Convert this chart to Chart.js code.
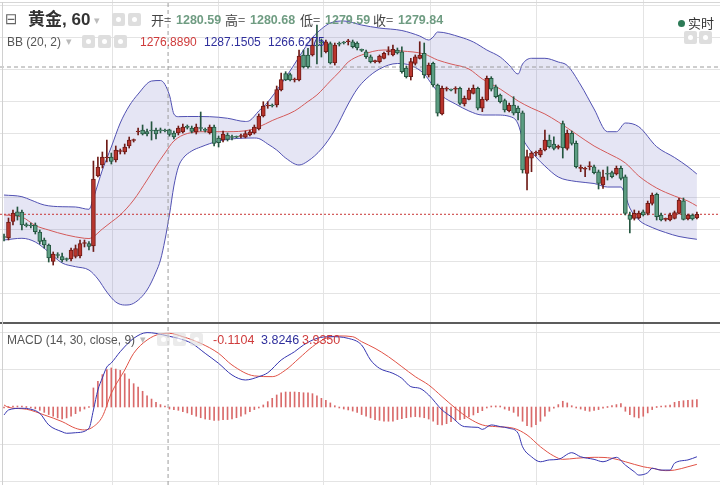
<!DOCTYPE html>
<html>
<head>
<meta charset="utf-8">
<script src="https://cdn.jsdelivr.net/npm/chart.js@4.4.0/dist/chart.umd.min.js"></script>
<style>
  body { margin: 0; background: #fff; }
  #wrap { position: relative; width: 720px; height: 485px; overflow: hidden; background: #fff;
          font-family: "Liberation Sans", Arial, sans-serif; }
  #mainBox { position: absolute; left: 0; top: 0; width: 720px; height: 322px; }
  #macdBox { position: absolute; left: 0; top: 324px; width: 720px; height: 161px; }
  .sep { position: absolute; left: 0; top: 322px; width: 720px; height: 2px; background: #5c5c5c; }
  .topline { position: absolute; left: 0; top: 2px; width: 720px; height: 1px; background: #d6d6d6; }
  .leftline { position: absolute; left: 2px; top: 2px; width: 1px; height: 483px; background: #d0d0d0; }
  .lbl { position: absolute; white-space: nowrap; font-size: 13px; line-height: 16px; color: #444; z-index: 5; }
  .ico { position: absolute; width: 13px; height: 13px; background: #dedede; border-radius: 2px; z-index: 5; }
  .ico i { position: absolute; left: 4px; top: 4px; width: 5px; height: 5px; border-radius: 50%; background: #fff; }
  .arrow { color: #bbb; font-family: "DejaVu Sans"; font-size: 11px; }
  .val { font-weight: bold; font-size: 12.5px; color: #6f9c82; }
  .red { color: #cf3b3b; }
  .blue { color: #2f2f9c; }
</style>
</head>
<body>
<div id="wrap">
  <div id="mainBox"><canvas id="mainChart"></canvas></div>
  <div class="sep"></div>
  <div id="macdBox"><canvas id="macdChart"></canvas></div>
  <div class="topline"></div>
  <div class="leftline"></div>

  <!-- header, row 1 -->
  <div class="lbl" style="left:5px;top:11px;font-size:15px;color:#666;font-family:'DejaVu Sans'">⊟</div>
  <div class="lbl" style="left:28px;top:10px;font-size:17px;line-height:20px;font-weight:bold;color:#333;font-family:'Liberation Sans','Noto Sans CJK SC'">黄金, 60</div>
  <div class="lbl arrow" style="left:94px;top:13px">▾</div>
  <div class="ico" style="left:112px;top:13px"><i></i></div>
  <div class="ico" style="left:128px;top:13px"><i></i></div>
  <div class="lbl" style="left:151px;top:12px;font-family:'Noto Sans CJK SC'">开=</div>
  <div class="lbl val" style="left:176px;top:12px">1280.59</div>
  <div class="lbl" style="left:225px;top:12px;font-family:'Noto Sans CJK SC'">高=</div>
  <div class="lbl val" style="left:250px;top:12px">1280.68</div>
  <div class="lbl" style="left:300px;top:12px;font-family:'Noto Sans CJK SC'">低=</div>
  <div class="lbl val" style="left:325px;top:12px">1279.59</div>
  <div class="lbl" style="left:373px;top:12px;font-family:'Noto Sans CJK SC'">收=</div>
  <div class="lbl val" style="left:398px;top:12px">1279.84</div>

  <!-- header, row 2 -->
  <div class="lbl" style="left:7px;top:34px;font-size:12px;color:#555">BB (20, 2)</div>
  <div class="lbl arrow" style="left:66px;top:34px">▾</div>
  <div class="ico" style="left:82px;top:35px"><i></i></div>
  <div class="ico" style="left:98px;top:35px"><i></i></div>
  <div class="ico" style="left:114px;top:35px"><i></i></div>
  <div class="lbl red" style="left:140px;top:34px;font-size:12px">1276.8890</div>
  <div class="lbl blue" style="left:204px;top:34px;font-size:12px">1287.1505</div>
  <div class="lbl blue" style="left:268px;top:34px;font-size:12px">1266.6275</div>

  <!-- top right -->
  <div style="position:absolute;left:678px;top:20px;width:7px;height:7px;border-radius:50%;background:#2d7b57;z-index:5"></div>
  <div class="lbl" style="left:688px;top:15px;font-family:'Noto Sans CJK SC';color:#333">实时</div>
  <div class="ico" style="left:684px;top:31px"><i></i></div>
  <div class="ico" style="left:699px;top:31px"><i></i></div>

  <!-- MACD legend -->
  <div class="lbl" style="left:7px;top:332px;font-size:12px;color:#555">MACD (14, 30, close, 9)</div>
  <div class="lbl arrow" style="left:140px;top:332px">▾</div>
  <div class="ico" style="left:157px;top:333px;opacity:0.6"><i></i></div>
  <div class="ico" style="left:173px;top:333px;opacity:0.6"><i></i></div>
  <div class="ico" style="left:190px;top:333px;opacity:0.6"><i></i></div>
  <div class="lbl red" style="left:213px;top:332px;font-size:12.5px">-0.1104</div>
  <div class="lbl blue" style="left:261px;top:332px;font-size:12.5px">3.8246</div>
  <div class="lbl red" style="left:302px;top:332px;font-size:12.5px">3.9350</div>
</div>

<script>
// 黄金 60分钟: K线 + BB(20,2) + MACD(14,30,9)

// candles (one per hour bar)
const opens = [
  1263.83,1263.67,1266.25,1267.78,1267.73,1265.70,1265.62,1265.70,1264.61,1263.36,
  1262.58,1260.00,1260.98,1260.78,1260.39,1260.39,1260.78,1260.86,1262.81,1262.81,
  1262.42,1273.36,1275.08,1276.17,1276.33,1275.86,1277.19,1277.11,1278.05,1278.91,
  1280.23,1280.55,1280.31,1280.55,1280.55,1280.44,1280.44,1280.59,1280.08,1280.08,
  1280.23,1281.02,1280.86,1280.23,1280.86,1280.55,1280.13,1281.02,1279.30,1278.98,
  1279.77,1279.41,1279.45,1279.53,1279.41,1279.77,1280.08,1280.70,1282.73,1284.30,
  1284.38,1284.45,1286.80,1289.38,1289.22,1288.36,1288.36,1292.27,1292.27,1292.27,
  1293.83,1294.30,1292.78,1294.06,1291.02,1293.98,1294.19,1294.34,1294.34,1294.14,
  1293.05,1292.78,1292.00,1291.22,1291.22,1291.75,1292.78,1292.27,1293.05,1292.78,
  1290.23,1288.88,1290.97,1291.75,1292.53,1289.14,1290.97,1287.58,1283.05,1286.91,
  1286.80,1286.91,1287.06,1284.61,1285.34,1286.28,1287.06,1283.94,1285.23,1288.63,
  1287.31,1286.02,1285.13,1283.56,1284.45,1283.98,1283.25,1273.78,1276.13,1276.91,
  1276.64,1277.42,1278.98,1278.36,1277.84,1281.56,1277.69,1280.03,1278.47,1274.56,
  1274.41,1274.81,1274.81,1274.03,1271.95,1273.67,1273.88,1273.67,1274.56,1273.25,
  1267.27,1266.75,1266.80,1267.78,1267.53,1269.09,1270.50,1267.27,1266.59,1266.48,
  1266.75,1267.53,1269.50,1266.64,1267.27,1266.80
];
const highs = [
  1264.30,1266.80,1268.05,1268.52,1268.05,1266.02,1266.02,1266.02,1264.92,1263.67,
  1262.74,1261.49,1261.38,1261.33,1260.55,1262.11,1262.58,1263.36,1263.36,1263.13,
  1275.70,1276.33,1277.11,1278.98,1276.95,1278.05,1277.58,1278.36,1279.45,1279.14,
  1280.86,1281.33,1280.70,1281.84,1280.86,1280.86,1280.70,1280.68,1280.39,1281.17,
  1281.48,1281.33,1281.17,1281.48,1283.36,1280.86,1281.33,1281.33,1279.61,1280.39,
  1280.08,1279.77,1279.61,1279.92,1280.39,1280.55,1281.33,1283.05,1284.97,1284.97,
  1284.61,1287.42,1289.45,1289.66,1289.45,1288.67,1293.05,1293.05,1293.31,1294.92,
  1296.95,1294.77,1294.61,1294.30,1294.14,1294.30,1294.38,1294.72,1294.61,1294.34,
  1293.20,1293.05,1292.27,1291.48,1292.27,1292.73,1293.56,1293.83,1293.36,1293.56,
  1290.55,1291.75,1292.27,1294.34,1294.14,1291.02,1291.17,1287.73,1287.42,1287.27,
  1286.95,1287.31,1287.27,1285.86,1287.11,1287.58,1287.27,1285.70,1288.98,1288.88,
  1287.58,1286.17,1285.39,1284.77,1285.75,1284.30,1283.52,1277.42,1277.16,1277.27,
  1277.69,1280.55,1279.77,1279.50,1278.20,1281.95,1280.55,1280.39,1278.83,1275.08,
  1274.77,1275.59,1275.08,1274.30,1274.30,1274.81,1274.14,1274.92,1274.92,1273.52,
  1267.73,1268.05,1267.89,1268.05,1269.45,1270.70,1270.70,1267.58,1266.80,1267.58,
  1267.89,1269.88,1269.92,1267.42,1267.42,1267.73
];
const lows = [
  1263.20,1263.36,1265.70,1266.48,1264.92,1265.39,1265.23,1264.30,1262.74,1262.11,
  1259.92,1259.45,1260.55,1259.92,1260.08,1260.08,1260.55,1260.55,1262.27,1261.80,
  1261.56,1273.20,1274.61,1275.55,1275.23,1275.55,1276.80,1276.80,1277.73,1278.67,
  1279.77,1279.77,1279.61,1278.98,1279.14,1280.08,1280.23,1279.59,1279.14,1279.77,
  1280.08,1280.70,1280.08,1279.92,1280.39,1280.23,1279.92,1278.05,1277.89,1278.67,
  1278.83,1278.98,1279.30,1279.30,1279.30,1279.61,1279.92,1280.55,1282.58,1283.94,
  1284.14,1284.14,1286.64,1288.25,1288.20,1288.05,1288.20,1290.23,1290.19,1292.11,
  1290.86,1291.95,1292.58,1290.86,1290.70,1293.67,1293.98,1293.83,1293.36,1293.05,
  1292.81,1291.75,1291.02,1291.02,1291.02,1291.64,1292.27,1292.11,1292.42,1289.41,
  1288.67,1288.36,1290.70,1291.64,1288.67,1288.83,1287.27,1282.73,1282.89,1286.64,
  1286.64,1286.28,1284.45,1284.30,1285.23,1286.17,1283.67,1283.41,1285.08,1286.64,
  1285.55,1284.77,1283.36,1283.36,1282.89,1282.11,1273.83,1271.17,1274.03,1276.48,
  1276.33,1277.27,1277.73,1277.42,1277.58,1276.17,1277.42,1278.20,1274.61,1274.03,
  1273.25,1274.30,1273.67,1271.33,1271.44,1272.73,1273.05,1273.52,1272.73,1267.27,
  1264.45,1266.48,1266.64,1267.11,1267.27,1268.83,1266.48,1266.33,1266.33,1266.33,
  1266.64,1267.42,1266.48,1266.48,1266.48,1266.64
];
const closes = [
  1263.75,1266.17,1267.58,1267.11,1265.70,1265.60,1265.55,1264.66,1263.13,1262.58,
  1260.55,1261.17,1260.94,1260.23,1260.31,1261.80,1262.03,1262.81,1262.89,1262.34,
  1272.89,1274.77,1276.33,1276.25,1275.63,1277.42,1277.27,1277.89,1278.98,1278.98,
  1280.31,1279.92,1279.92,1280.39,1279.92,1280.40,1280.39,1279.84,1279.45,1280.86,
  1281.02,1280.97,1280.31,1281.02,1280.78,1280.50,1281.02,1278.47,1278.56,1279.92,
  1279.09,1279.38,1279.41,1279.61,1280.00,1280.28,1281.02,1282.73,1284.30,1284.38,
  1284.30,1286.88,1288.44,1288.36,1288.36,1288.44,1292.11,1290.44,1290.44,1293.83,
  1293.67,1294.14,1294.34,1291.02,1293.83,1293.95,1294.14,1294.38,1293.56,1293.36,
  1293.00,1292.00,1291.22,1291.25,1292.11,1292.53,1292.81,1293.16,1292.58,1289.66,
  1288.88,1291.22,1292.00,1292.27,1289.14,1290.70,1287.58,1283.16,1287.06,1286.95,
  1286.78,1286.95,1284.72,1285.50,1286.80,1287.06,1283.94,1285.34,1288.63,1286.91,
  1285.75,1284.97,1283.67,1284.45,1283.16,1283.25,1274.30,1276.38,1276.95,1276.95,
  1277.42,1278.98,1277.94,1277.69,1277.89,1277.73,1280.03,1278.47,1274.81,1274.61,
  1274.45,1274.84,1273.88,1272.22,1273.25,1273.63,1273.25,1274.56,1273.00,1267.53,
  1266.59,1267.53,1267.58,1267.27,1269.09,1270.39,1267.00,1266.48,1266.64,1267.27,
  1267.63,1269.61,1266.59,1267.27,1266.64,1267.38
];

// Bollinger bands, read at these bar numbers
const upperIdx = [0,4,6,9,13,16,19,20,22,24,26,28,30,33,35,37,38,39,41,46,
  50,54,55,57,59,62,65,67,69,71,73,76,80,84,89,93,95,96,97,102,
  105,108,111,113,115,116,118,121,124,126,129,132,135,137,139,142,146,150,153,155];
const upperVals = [1270.39,1270.13,1269.61,1268.83,1268.56,1268.52,1268.16,1269.92,1274.30,1277.89,
  1281.64,1284.30,1286.17,1288.20,1288.28,1286.02,1283.05,1282.63,1282.66,1282.63,
  1282.38,1281.88,1282.03,1283.52,1284.92,1287.73,1290.86,1293.05,1295.00,1296.33,
  1297.27,1297.58,1296.95,1296.48,1296.09,1295.23,1294.61,1295.08,1295.86,1295.08,
  1294.30,1293.05,1291.95,1290.70,1289.30,1290.86,1291.75,1291.75,1291.17,1290.63,
  1287.58,1283.83,1280.28,1280.28,1281.64,1281.06,1277.94,1276.25,1274.81,1273.67];
const midIdx = [0,4,7,10,14,18,19,20,22,24,26,29,32,34,36,38,41,45,50,55,
  57,60,65,68,70,73,75,77,80,85,89,94,97,100,104,107,111,115,118,121,
  124,128,132,135,139,142,146,150,153,155];
const midVals = [1267.27,1266.95,1265.63,1264.92,1264.14,1263.63,1263.59,1263.88,1265.08,1266.17,
  1267.27,1269.61,1272.73,1274.92,1276.95,1278.83,1280.00,1280.28,1280.28,1280.55,
  1281.02,1282.03,1283.52,1285.00,1286.02,1288.20,1289.61,1291.17,1292.27,1293.05,
  1292.89,1292.42,1291.48,1290.86,1290.08,1288.52,1286.95,1285.08,1283.98,1283.05,
  1281.80,1279.92,1278.05,1276.95,1275.39,1273.36,1271.48,1270.23,1269.45,1268.67];
const lowerIdx = [0,4,7,10,13,16,19,21,23,25,27,29,32,34,35,36,37,38,39,40,
  42,44,48,52,56,57,59,61,63,66,68,71,74,77,79,81,84,88,91,94,
  96,98,101,104,107,110,114,115,116,117,119,121,124,128,132,135,138,139,140,142,
  145,148,151,155];
const lowerVals = [1263.36,1263.63,1263.05,1261.49,1259.77,1259.19,1258.67,1257.27,1255.23,1253.67,
  1253.20,1253.47,1255.55,1258.36,1260.23,1263.36,1267.27,1271.80,1274.77,1276.09,
  1277.27,1277.89,1278.83,1279.22,1279.30,1279.22,1278.36,1277.42,1276.17,1275.08,
  1275.70,1277.58,1280.55,1284.61,1286.95,1288.52,1290.08,1290.94,1290.63,1289.30,
  1287.42,1285.86,1284.61,1283.52,1282.89,1282.89,1282.42,1281.48,1279.30,1278.05,
  1276.33,1274.92,1273.20,1272.50,1272.19,1271.64,1271.64,1270.23,1268.36,1266.48,
  1265.31,1264.53,1263.91,1263.47];

// MACD lines, read at these bar numbers
const macdIdx = [0,1,4,6,8,10,13,14,16,19,20,21,22,23,24,26,29,32,34,37,
  39,42,45,48,51,54,57,59,62,65,67,70,73,77,80,82,84,87,89,91,
  93,95,98,100,103,106,107,109,111,113,115,116,118,120,122,124,127,129,132,134,
  137,139,141,142,144,145,147,149,150,153,155];
const macdVals = [-0.43,-0.16,-0.07,-0.12,-0.34,-0.97,-1.34,-1.42,-1.39,-1.15,
  -0.16,0.92,1.57,2.16,2.38,2.99,3.71,4.02,3.98,3.82,
  3.71,3.44,2.90,2.36,1.73,1.46,1.64,1.85,2.54,2.99,
  3.35,3.71,3.80,3.71,3.35,2.54,2.09,1.82,1.55,1.10,
  1.01,0.65,-0.16,-0.52,-1.06,-1.10,-1.21,-0.97,-1.06,-1.15,
  -1.42,-2.15,-2.69,-2.96,-2.86,-2.83,-2.47,-2.69,-2.83,-2.96,
  -2.72,-3.14,-3.50,-3.68,-3.55,-3.31,-3.41,-3.41,-3.04,-2.86,-2.69];
const sigIdx = [0,1,5,9,13,16,18,20,22,24,27,29,32,35,37,40,44,48,51,56,
  60,63,66,69,72,75,78,80,83,86,89,92,95,98,101,104,107,110,114,117,
  120,123,125,128,132,136,139,143,145,148,150,153,155];
const sigVals = [0.11,-0.02,-0.12,-0.43,-0.79,-1.15,-1.24,-1.06,-0.52,0.74,
  2.00,2.90,3.62,3.95,3.98,3.80,3.44,2.90,2.27,1.68,
  1.64,2.00,2.63,3.26,3.71,3.84,3.80,3.53,3.17,2.72,
  2.18,1.64,1.19,0.56,-0.07,-0.61,-0.97,-1.06,-1.15,-1.51,
  -2.15,-2.65,-2.83,-2.77,-2.72,-2.77,-2.96,-3.23,-3.31,-3.44,
  -3.41,-3.23,-3.10];
const histVals = [
  -0.05,0.00,0.03,0.03,0.02,0.00,-0.05,-0.10,-0.18,-0.29,
  -0.41,-0.50,-0.59,-0.65,-0.59,-0.50,-0.36,-0.23,-0.11,0.00,
  1.03,1.39,1.75,2.02,2.11,2.05,1.98,1.80,1.51,1.26,
  1.08,0.85,0.61,0.43,0.25,0.13,0.04,-0.11,-0.15,-0.18,
  -0.25,-0.32,-0.41,-0.50,-0.58,-0.65,-0.68,-0.72,-0.72,-0.68,
  -0.68,-0.65,-0.58,-0.50,-0.38,-0.25,-0.14,-0.04,0.11,0.29,
  0.47,0.65,0.77,0.81,0.81,0.81,0.79,0.77,0.76,0.72,
  0.61,0.47,0.36,0.22,0.07,-0.04,-0.11,-0.16,-0.22,-0.29,
  -0.41,-0.50,-0.59,-0.68,-0.72,-0.76,-0.77,-0.76,-0.68,-0.63,
  -0.58,-0.54,-0.52,-0.54,-0.58,-0.65,-0.77,-0.95,-0.97,-0.90,
  -0.79,-0.72,-0.68,-0.63,-0.54,-0.43,-0.30,-0.20,-0.05,0.05,
  0.06,0.03,-0.11,-0.18,-0.29,-0.50,-0.77,-1.01,-1.08,-0.95,
  -0.77,-0.50,-0.23,-0.07,0.13,0.31,0.22,0.07,-0.04,-0.11,
  -0.18,-0.23,-0.18,-0.14,-0.07,0.00,0.07,0.13,0.18,-0.23,
  -0.41,-0.54,-0.59,-0.50,-0.32,-0.14,0.00,0.04,0.07,0.11,
  0.25,0.31,0.34,0.36,0.38,0.40
];

// grid / crosshair positions
const dayLines = [24.2, 47.9, 71.4, 95.3, 119.2, 143.0];
const priceGrid = [1255, 1260, 1265, 1270, 1275, 1280, 1285, 1290, 1295, 1300];
const macdGrid = [-4, -2, 2, 4];
const crossIdx = 36.7;
const crossPrice = 1290.39;

const X_MIN = -0.9, X_MAX = 160.17;
const Y_MIN = 1250.55, Y_MAX = 1300.86;
const M_MIN = -4.216, M_MAX = 4.486;

const UP_FILL = '#b8352d', UP_EDGE = '#6e1b17';
const DN_FILL = '#5c9d82', DN_EDGE = '#255640';
const BAND = '#5151b2';
const GRID = '#e4e4e4';

const bars = opens.map((_, i) => i);
const isUp = bars.map(i => closes[i] >= opens[i]);
const pts = (xs, ys) => xs.map((x, i) => ({ x: x, y: ys[i] }));
const lastClose = closes[closes.length - 1];

function xAxis() {
  return {
    type: 'linear', min: X_MIN, max: X_MAX, offset: false,
    ticks: { display: false }, border: { display: false },
    grid: { color: GRID, drawTicks: false, offset: false },
    afterBuildTicks: s => { s.ticks = dayLines.map(v => ({ value: v })); }
  };
}

function yAxis(min, max, lines) {
  return {
    type: 'linear', min: min, max: max,
    ticks: { display: false }, border: { display: false },
    grid: { color: GRID, drawTicks: false },
    afterBuildTicks: s => { s.ticks = lines.map(v => ({ value: v })); }
  };
}

function dashed(data, order) {
  return { type: 'line', data: data, borderColor: '#9c9c9c', borderWidth: 1, borderDash: [4, 3],
           pointRadius: 0, fill: false, order: order };
}

const common = {
  responsive: true, maintainAspectRatio: false, animation: false, events: [],
  layout: { padding: 0 },
  plugins: { legend: { display: false }, tooltip: { enabled: false },
             filler: { drawTime: 'beforeDatasetsDraw' } }
};

new Chart(document.getElementById('mainChart'), {
  type: 'line',
  data: {
    datasets: [
      { label: 'BB upper', data: pts(upperIdx, upperVals), borderColor: BAND, borderWidth: 1,
        backgroundColor: 'rgba(95,95,185,0.16)', fill: '+1', pointRadius: 0,
        cubicInterpolationMode: 'monotone', order: 5 },
      { label: 'BB lower', data: pts(lowerIdx, lowerVals), borderColor: BAND, borderWidth: 1,
        fill: false, pointRadius: 0, cubicInterpolationMode: 'monotone', order: 6 },
      { label: 'BB basis', data: pts(midIdx, midVals), borderColor: '#d35a5a', borderWidth: 1,
        fill: false, pointRadius: 0, cubicInterpolationMode: 'monotone', order: 4 },
      { label: 'last', data: [{ x: X_MIN, y: lastClose }, { x: X_MAX, y: lastClose }],
        borderColor: '#c73434', borderWidth: 1, borderDash: [2, 2], pointRadius: 0, fill: false, order: 3 },
      dashed([{ x: X_MIN, y: crossPrice }, { x: X_MAX, y: crossPrice }], 2),
      dashed([{ x: crossIdx, y: Y_MIN }, { x: crossIdx, y: Y_MAX }], 2),
      { type: 'bar', label: 'wick', data: bars.map(i => ({ x: i, y: [lows[i], highs[i]] })),
        backgroundColor: bars.map(i => isUp[i] ? UP_EDGE : DN_EDGE),
        barThickness: 1, grouped: false, order: 1 },
      { type: 'bar', label: 'body', data: bars.map(i => ({ x: i, y: [opens[i], closes[i]] })),
        backgroundColor: bars.map(i => isUp[i] ? UP_FILL : DN_FILL),
        borderColor: bars.map(i => isUp[i] ? UP_EDGE : DN_EDGE),
        borderWidth: 1, borderSkipped: false, barThickness: 4, minBarLength: 1,
        grouped: false, order: 0 }
    ]
  },
  options: Object.assign({}, common, {
    scales: { x: xAxis(), y: yAxis(Y_MIN, Y_MAX, priceGrid) }
  })
});

new Chart(document.getElementById('macdChart'), {
  type: 'line',
  data: {
    datasets: [
      { type: 'bar', label: 'hist', data: bars.map(i => ({ x: i, y: histVals[i] })),
        backgroundColor: '#d96a6a', barThickness: 1, minBarLength: 1, grouped: false, order: 3 },
      { label: 'signal', data: pts(sigIdx, sigVals), borderColor: '#e05246', borderWidth: 1,
        fill: false, pointRadius: 0, cubicInterpolationMode: 'monotone', order: 2 },
      { label: 'macd', data: pts(macdIdx, macdVals), borderColor: '#3636b0', borderWidth: 1,
        fill: false, pointRadius: 0, cubicInterpolationMode: 'monotone', order: 1 },
      dashed([{ x: crossIdx, y: M_MIN }, { x: crossIdx, y: M_MAX }], 0)
    ]
  },
  options: Object.assign({}, common, {
    scales: { x: xAxis(), y: yAxis(M_MIN, M_MAX, macdGrid) }
  })
});
</script>
</body>
</html>
